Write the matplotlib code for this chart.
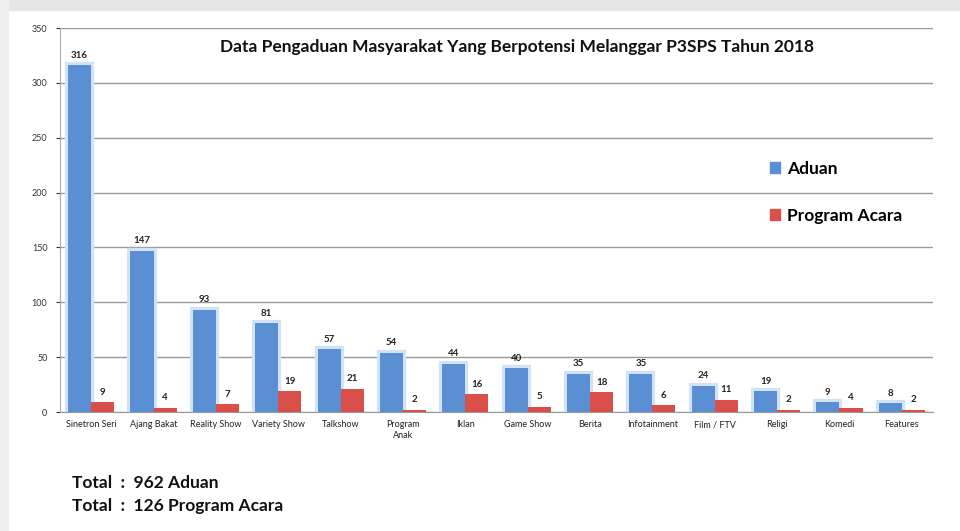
import matplotlib.pyplot as plt
import matplotlib.patheffects as pe
from matplotlib.patches import Rectangle, Patch
import numpy as np

plt.rcParams['font.family'] = ['Lato', 'DejaVu Sans']

# data
kategori = ['Sinetron Seri', 'Ajang Bakat', 'Reality Show', 'Variety Show', 'Talkshow',
            'Program\nAnak', 'Iklan', 'Game Show', 'Berita', 'Infotainment',
            'Film / FTV', 'Religi', 'Komedi', 'Features']
aduan = [316, 147, 93, 81, 57, 54, 44, 40, 35, 35, 24, 19, 9, 8]
program_acara = [9, 4, 7, 19, 21, 2, 16, 5, 18, 6, 11, 2, 4, 2]

BIRU = '#5B8FD4'
MERAH = '#D9504B'

fig = plt.figure(figsize=(9.6, 5.31), dpi=100)
fig.patch.set_facecolor('white')

# latar abu-abu di tepi atas dan kiri
fig.add_artist(Rectangle((0, 1 - 10 / 531), 1, 10 / 531, transform=fig.transFigure,
                         color='#e6e6e6', zorder=-5))
fig.add_artist(Rectangle((0, 0), 8 / 960, 1, transform=fig.transFigure,
                         color='#efefef', zorder=-5))

ax = fig.add_axes([60 / 960, 1 - 412 / 531, 873 / 960, 384 / 531])
x = np.arange(len(kategori))
w = 0.37

b1 = ax.bar(x - w / 2, aduan, w, color=BIRU, zorder=3)
for p in b1:
    p.set_path_effects([pe.withStroke(linewidth=4.5, foreground='#d3e3f6'), pe.Normal()])
b2 = ax.bar(x + w / 2, program_acara, w, color=MERAH, zorder=4)

# label angka di atas batang
for xi, v in zip(x - w / 2, aduan):
    ax.annotate(str(v), (xi, v), xytext=(0, 4), textcoords='offset points',
                ha='center', va='bottom', fontsize=7, fontweight='bold', color='#222')
for xi, v in zip(x + w / 2, program_acara):
    ax.annotate(str(v), (xi, v), xytext=(0, 4), textcoords='offset points',
                ha='center', va='bottom', fontsize=7, fontweight='bold', color='#222')

ax.set_xlim(-0.5, len(kategori) - 0.5)
ax.set_ylim(0, 350)
ax.set_yticks(range(0, 351, 50))
ax.set_xticks(x)
ax.set_xticklabels(kategori, fontsize=6.5, color='#222')
ax.tick_params(axis='y', labelsize=6.5, colors='#333', length=3, width=0.8, pad=6)
ax.tick_params(axis='x', length=0, pad=6)
ax.yaxis.grid(True, color='#9a9a9a', lw=1)
ax.set_axisbelow(True)
for s in ['top', 'right']:
    ax.spines[s].set_visible(False)
ax.spines['left'].set_color('#aaa')
ax.spines['bottom'].set_color('#999')

ax.set_title('Data Pengaduan Masyarakat Yang Berpotensi Melanggar P3SPS Tahun 2018',
             fontsize=12.5, fontweight='bold', color='#111', y=0.917, x=0.524)

# legenda tanpa efek glow
handles = [Patch(color=BIRU, label='Aduan'), Patch(color=MERAH, label='Program Acara')]
ax.legend(handles=handles, loc='upper left', bbox_to_anchor=(0.795, 0.695), frameon=False,
          handlelength=0.6, handleheight=0.6, handletextpad=0.4,
          labelspacing=1.8, prop={'weight': 'bold', 'size': 12.5})

fig.text(72 / 960, 1 - 483 / 531, 'Total  :  962 Aduan', fontsize=12.5,
         fontweight='bold', va='center', color='#111')
fig.text(72 / 960, 1 - 506 / 531, 'Total  :  126 Program Acara', fontsize=12.5,
         fontweight='bold', va='center', color='#111')

fig.savefig('out.png', dpi=100)
